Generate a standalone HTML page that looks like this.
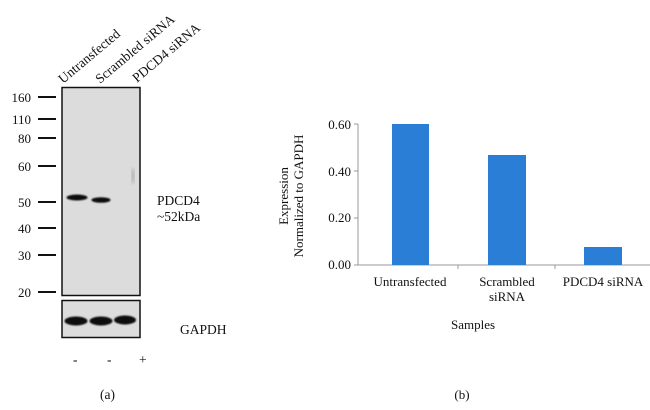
<!DOCTYPE html>
<html><head><meta charset="utf-8"><style>
html,body{margin:0;padding:0;background:#fff;}
svg{display:block;font-family:"Liberation Serif",serif;}
</style></head><body>
<svg width="650" height="410" viewBox="0 0 650 410" xmlns="http://www.w3.org/2000/svg">
<defs><filter id="b" x="-20%" y="-100%" width="140%" height="300%"><feGaussianBlur stdDeviation="0.8"/></filter>
<filter id="b2"><feGaussianBlur stdDeviation="1.5"/></filter></defs>
<!-- lane labels -->
<g font-size="13.5" fill="#111">
<text transform="translate(63,84) rotate(-40)">Untransfected</text>
<text transform="translate(100,84) rotate(-40)">Scrambled siRNA</text>
<text transform="translate(137,83) rotate(-40)">PDCD4 siRNA</text>
</g>
<!-- blot -->
<rect x="62" y="87.5" width="78" height="208" fill="#dcdcdc" stroke="#111" stroke-width="1.5"/>
<ellipse cx="77" cy="197.5" rx="10.5" ry="3" fill="#111" filter="url(#b)"/>
<ellipse cx="101" cy="200" rx="9.5" ry="2.8" fill="#111" filter="url(#b)"/>
<ellipse cx="133" cy="176" rx="1.5" ry="8" fill="#aaa" filter="url(#b2)"/>
<rect x="62" y="300.5" width="78" height="37" fill="#dcdcdc" stroke="#111" stroke-width="1.5"/>
<ellipse cx="76" cy="321" rx="11.5" ry="4.5" fill="#111" filter="url(#b)"/>
<ellipse cx="101" cy="321" rx="11.5" ry="4.5" fill="#111" filter="url(#b)"/>
<ellipse cx="125" cy="320" rx="11" ry="4.5" fill="#111" filter="url(#b)"/>
<!-- markers -->
<g stroke="#111" stroke-width="2">
<line x1="38" y1="97" x2="56" y2="97"/><line x1="38" y1="119" x2="56" y2="119"/>
<line x1="38" y1="138" x2="56" y2="138"/><line x1="38" y1="166" x2="56" y2="166"/>
<line x1="38" y1="202" x2="56" y2="202"/><line x1="38" y1="228" x2="56" y2="228"/>
<line x1="38" y1="255" x2="56" y2="255"/><line x1="38" y1="292" x2="56" y2="292"/>
</g>
<g font-size="13" fill="#111" text-anchor="end">
<text x="31" y="102">160</text><text x="31" y="124">110</text><text x="31" y="143">80</text>
<text x="31" y="171">60</text><text x="31" y="207">50</text><text x="31" y="233">40</text>
<text x="31" y="260">30</text><text x="31" y="297">20</text>
</g>
<g font-size="13.5" fill="#111">
<text x="157" y="205">PDCD4</text><text x="157" y="221">~52kDa</text>
<text x="180" y="334">GAPDH</text>
<text x="73" y="364">-</text><text x="107" y="364">-</text><text x="139" y="364">+</text>
<text x="100" y="399">(a)</text>
</g>
<!-- bar chart -->
<line x1="358" y1="265" x2="650" y2="265" stroke="#999" stroke-width="1"/>
<line x1="358" y1="124" x2="358" y2="265" stroke="#999" stroke-width="1"/>
<g stroke="#999"><line x1="354" y1="124" x2="358" y2="124"/><line x1="354" y1="171" x2="358" y2="171"/><line x1="354" y1="218" x2="358" y2="218"/><line x1="354" y1="265" x2="358" y2="265"/>
<line x1="458" y1="265" x2="458" y2="269"/><line x1="555" y1="265" x2="555" y2="269"/></g>
<g fill="#2b7ed6">
<rect x="392" y="124" width="37" height="141"/>
<rect x="488" y="155" width="38" height="110"/>
<rect x="584" y="247" width="38" height="18"/>
</g>
<g font-size="13" fill="#111" text-anchor="end">
<text x="351" y="129">0.60</text><text x="351" y="176">0.40</text><text x="351" y="222">0.20</text><text x="351" y="269">0.00</text>
</g>
<g font-size="13" fill="#111" text-anchor="middle">
<text x="410" y="286">Untransfected</text>
<text x="507" y="286">Scrambled</text><text x="507" y="301">siRNA</text>
<text x="603" y="286">PDCD4 siRNA</text>
<text x="473" y="329">Samples</text>
<text x="462" y="399">(b)</text>
<text transform="translate(288,196) rotate(-90)">Expression</text>
<text transform="translate(303,196) rotate(-90)">Normalized to GAPDH</text>
</g>
</svg>
</body></html>
